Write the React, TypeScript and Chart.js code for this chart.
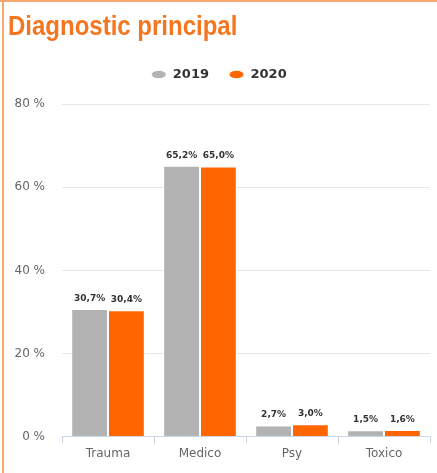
import React, { useEffect, useRef } from "react";
import { Chart, registerables } from "chart.js";

Chart.register(...registerables);

const titleText = "Diagnostic principal";
const categories = ["Trauma", "Medico", "Psy", "Toxico"];
const seriesNames = ["2019", "2020"];
const values2019 = [30.7, 65.2, 2.7, 1.5];
const values2020 = [30.4, 65.0, 3.0, 1.6];
const yTicks = [0, 20, 40, 60, 80];

const GRAY = "#b3b3b3";
const ORANGE = "#ff6600";
const TITLE_COLOR = "#f5761f";
const BORDER_COLOR = "#f8a86c";

const titlePlugin = {
  id: "customTitle",
  afterDraw(chart: any) {
    const ctx = chart.ctx;
    ctx.save();
    ctx.font = "bold 24px 'Liberation Sans', Arial, sans-serif";
    ctx.fillStyle = TITLE_COLOR;
    ctx.textBaseline = "alphabetic";
    ctx.textAlign = "left";
    ctx.translate(8, 35);
    ctx.scale(1, 1.18);
    ctx.fillText(titleText, 0, 0);
    ctx.restore();
  },
};

const labelPlugin = {
  id: "barLabels",
  afterDatasetsDraw(chart: any) {
    const ctx = chart.ctx;
    ctx.save();
    ctx.font = "bold 9px 'DejaVu Sans', sans-serif";
    ctx.fillStyle = "#333333";
    ctx.textAlign = "center";
    ctx.textBaseline = "bottom";
    chart.data.datasets.forEach((ds: any, di: number) => {
      const meta = chart.getDatasetMeta(di);
      meta.data.forEach((bar: any, i: number) => {
        const v = ds.data[i];
        const txt = v.toFixed(1).replace(".", ",") + "%";
        ctx.fillText(txt, bar.x, bar.y - 6);
      });
    });
    ctx.restore();
  },
};

export default function App() {
  const ref = useRef<HTMLCanvasElement | null>(null);

  useEffect(() => {
    if (!ref.current) return;
    const chart = new Chart(ref.current, {
      type: "bar",
      data: {
        labels: categories,
        datasets: [
          {
            label: seriesNames[0],
            data: values2019,
            backgroundColor: GRAY,
            borderColor: "#ffffff",
            borderWidth: 1,
          },
          {
            label: seriesNames[1],
            data: values2020,
            backgroundColor: ORANGE,
            borderColor: "#ffffff",
            borderWidth: 1,
          },
        ],
      },
      options: {
        responsive: false,
        animation: false,
        layout: { padding: { top: 48, left: 8, right: 7, bottom: 9 } },
        datasets: {
          bar: { barPercentage: 1, categoryPercentage: 0.8 },
        },
        plugins: {
          title: { display: false },
          subtitle: {
            display: true,
            text: " ",
            position: "top",
            weight: 500,
            font: { size: 1 },
            padding: { top: 0, bottom: 12 },
          },
          tooltip: { enabled: false },
          legend: {
            position: "top",
            labels: {
              usePointStyle: true,
              pointStyle: "circle",
              pointStyleWidth: 15,
              boxHeight: 6,
              padding: 20,
              color: "#333333",
              font: { family: "'DejaVu Sans', sans-serif", size: 13, weight: "bold" },
            },
          },
        },
        scales: {
          x: {
            grid: {
              offset: true,
              drawOnChartArea: false,
              drawTicks: true,
              tickLength: 7,
              color: "#ccd6eb",
            },
            border: { display: true, color: "#ccd6eb" },
            ticks: {
              color: "#666666",
              padding: 3,
              font: { family: "'DejaVu Sans', sans-serif", size: 12 },
            },
          },
          y: {
            min: 0,
            max: 80,
            afterBuildTicks(scale: any) {
              scale.ticks = yTicks.map((v) => ({ value: v }));
            },
            afterFit(scale: any) {
              scale.width = 54;
            },
            grid: { color: "#e6e6e6", drawTicks: false },
            border: { display: false },
            ticks: {
              color: "#666666",
              padding: 17,
              font: { family: "'DejaVu Sans', sans-serif", size: 12 },
              callback: (v: any) => v + " %",
            },
          },
        },
      },
      plugins: [titlePlugin, labelPlugin],
    });
    return () => chart.destroy();
  }, []);

  return (
    <div style={{ position: "fixed", left: 0, top: 0, width: 437, height: 473, background: "#fff" }}>
      <canvas ref={ref} width={437} height={473} style={{ position: "absolute", left: 0, top: 0 }} />
      <div style={{ position: "absolute", left: 0, top: 0, width: 437, height: 2, background: BORDER_COLOR }} />
      <div style={{ position: "absolute", left: 2, top: 0, width: 2, height: 473, background: BORDER_COLOR }} />
    </div>
  );
}
